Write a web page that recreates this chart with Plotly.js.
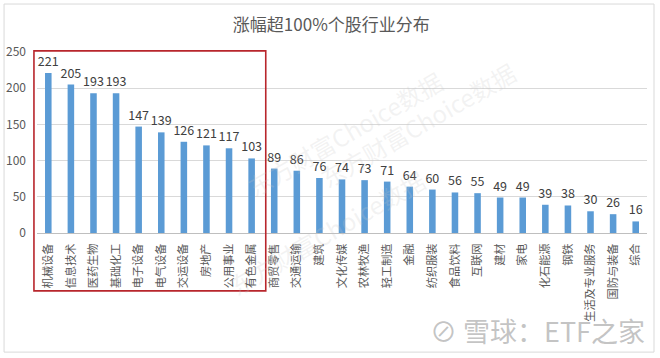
<!DOCTYPE html>
<html>
<head>
<meta charset="utf-8">
<script src="https://cdn.plot.ly/plotly-3.0.1.min.js"></script>
<style>
html,body{margin:0;padding:0;background:#fff;}
#chart{width:660px;height:358px;}
</style>
</head>
<body>
<div id="chart"></div>
<script>
const categories = ["机械设备","信息技术","医药生物","基础化工","电子设备","电气设备","交运设备","房地产","公用事业","有色金属","商贸零售","交通运输","建筑","文化传媒","农林牧渔","轻工制造","金融","纺织服装","食品饮料","互联网","建材","家电","化石能源","钢铁","生活及专业服务","国防与装备","综合"];
const counts = [221,205,193,193,147,139,126,121,117,103,89,86,76,74,73,71,64,60,56,55,49,49,39,38,30,26,16];
const yTicks = [0,50,100,150,200,250];
const titleText = "涨幅超100%个股行业分布";

const font = '"Microsoft YaHei","Noto Sans CJK SC","Noto Sans",sans-serif';

const trace = {
  type: 'bar',
  x: categories,
  y: counts,
  marker: {color: '#5b9bd5'},
  text: counts.map(String),
  textposition: 'outside',
  constraintext: 'none',
  cliponaxis: false,
  textfont: {family: font, size: 12.5, color: '#404040'},
  hoverinfo: 'x+y'
};

const wm = {color: 'rgba(200,200,200,0.22)', family: font, size: 24};
const layout = {
  width: 660, height: 358,
  margin: {l: 37, r: 13, t: 52, b: 125},
  paper_bgcolor: '#ffffff',
  plot_bgcolor: '#ffffff',
  showlegend: false,
  bargap: 0.71,
  title: {text: titleText, x: 0.502, xanchor: 'center', y: 0.93, yanchor: 'middle',
          font: {family: font, size: 17, color: '#595959'}},
  xaxis: {
    type: 'category',
    tickangle: -90,
    tickfont: {family: font, size: 11.2, color: '#595959'},
    showgrid: false,
    showline: true, linecolor: '#bfbfbf', linewidth: 1,
    ticks: '', ticklen: 0, ticklabelstandoff: 5,
    automargin: false
  },
  yaxis: {
    range: [0, 250],
    tickvals: yTicks,
    ticktext: yTicks.map(String),
    tickfont: {family: font, size: 12, color: '#595959'},
    showgrid: true, gridcolor: '#d9d9d9', gridwidth: 1,
    zeroline: false, showline: false,
    ticks: '', ticklabelstandoff: 10,
    automargin: false
  },
  shapes: [
    {type: 'rect', xref: 'paper', yref: 'paper', x0: -0.005, x1: 0.375, y0: -0.32, y1: 1.006,
     line: {color: '#b8262c', width: 1.6}, fillcolor: 'rgba(0,0,0,0)', layer: 'above'},
    {type: 'rect', xref: 'paper', yref: 'paper', x0: -0.054, x1: 1.0115, y0: -0.658, y1: 1.265,
     line: {color: '#d9d9d9', width: 1}, fillcolor: 'rgba(0,0,0,0)', layer: 'below'}
  ],
  annotations: [
    {text: '东方财富Choice数据', xref: 'paper', yref: 'paper', x: 0.33, y: 0.95, textangle: -30,
     showarrow: false, font: wm},
    {text: '东方财富Choice数据', xref: 'paper', yref: 'paper', x: 0.8, y: 1.0, textangle: -30,
     showarrow: false, font: wm},
    {text: '东方财富Choice数据', xref: 'paper', yref: 'paper', x: 0.3, y: -0.4, textangle: -30,
     showarrow: false, font: wm},
    {text: '⊘ 雪球：ETF之家', xref: 'paper', yref: 'paper', x: 1.0, y: -0.54, xanchor: 'right', yanchor: 'middle',
     showarrow: false, font: {family: font, size: 27, color: 'rgba(170,170,170,0.7)'}}
  ]
};

Plotly.newPlot('chart', [trace], layout, {displayModeBar: false, staticPlot: true});
</script>
</body>
</html>
